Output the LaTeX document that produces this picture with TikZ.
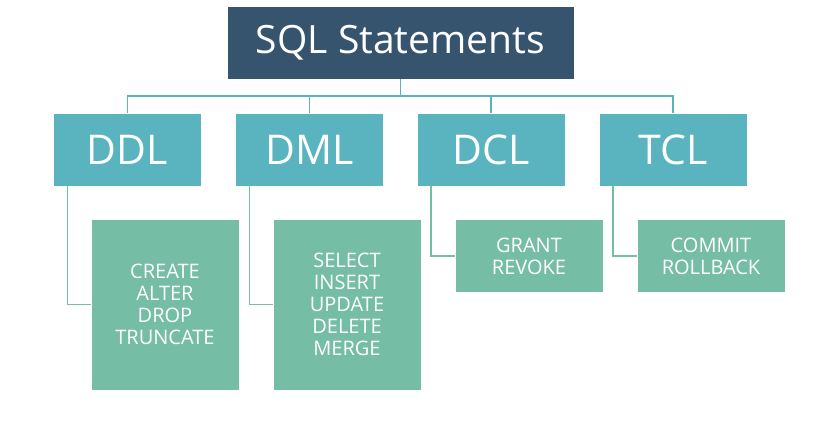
\documentclass[tikz,border=0pt]{standalone}
\usepackage{fontspec}
\setmainfont{Open Sans}
\usepackage{xcolor}
\definecolor{headblue}{HTML}{36546D}
\definecolor{langteal}{HTML}{5AB4BF}
\definecolor{cmdgreen}{HTML}{76BDA5}
\tikzset{
  headbox/.style={draw=white,line width=.6pt,fill=headblue,text=white,minimum width=347pt,minimum height=73pt,font=\fontsize{39}{41}\selectfont},
  langbox/.style={draw=white,line width=.6pt,fill=langteal,text=white,minimum width=148pt,minimum height=73pt,font=\fontsize{41}{43}\selectfont},
  cmdbox/.style={draw=white,line width=.6pt,fill=cmdgreen,text=white,minimum width=148pt,align=center,font=\fontsize{20}{22}\selectfont},
  buslink/.style={draw=langteal,line width=1.6pt},
  cmdlink/.style={draw=cmdgreen,line width=1.6pt}
}

\begin{document}
\begin{tikzpicture}[x=1pt,y=-1pt]
      \useasboundingbox (0,0) rectangle (818,435);
      \node[headbox] (sql) at (400.5,42.5) {SQL Statements};
      \node[langbox] (ddl) at (127.5,149.5) {DDL};
      \node[langbox] (dml) at (309.5,149.5) {DML};
      \node[langbox] (dcl) at (491,149.5) {DCL};
      \node[langbox] (tcl) at (673,149.5) {TCL};
      \node[cmdbox,minimum height=171pt] (ddlcmd) at (165,304.5) {CREATE\\ALTER\\DROP\\TRUNCATE};
      \node[cmdbox,minimum height=171pt] (dmlcmd) at (347,304.5) {SELECT\\INSERT\\UPDATE\\DELETE\\MERGE};
      \node[cmdbox,minimum height=73pt] (dclcmd) at (529,256) {GRANT\\REVOKE};
      \node[cmdbox,minimum height=73pt] (tclcmd) at (711,256) {COMMIT\\ROLLBACK};
      \foreach \lang in {ddl,dml,dcl,tcl}
        \draw [buslink] (sql.south) -- ++(0,17) -| (\lang.north);
      \foreach \lang in {ddl,dml,dcl,tcl}
        \draw [cmdlink] ([xshift=-60pt]\lang.south) |- (\lang cmd.west);
    \end{tikzpicture}
\end{document}
